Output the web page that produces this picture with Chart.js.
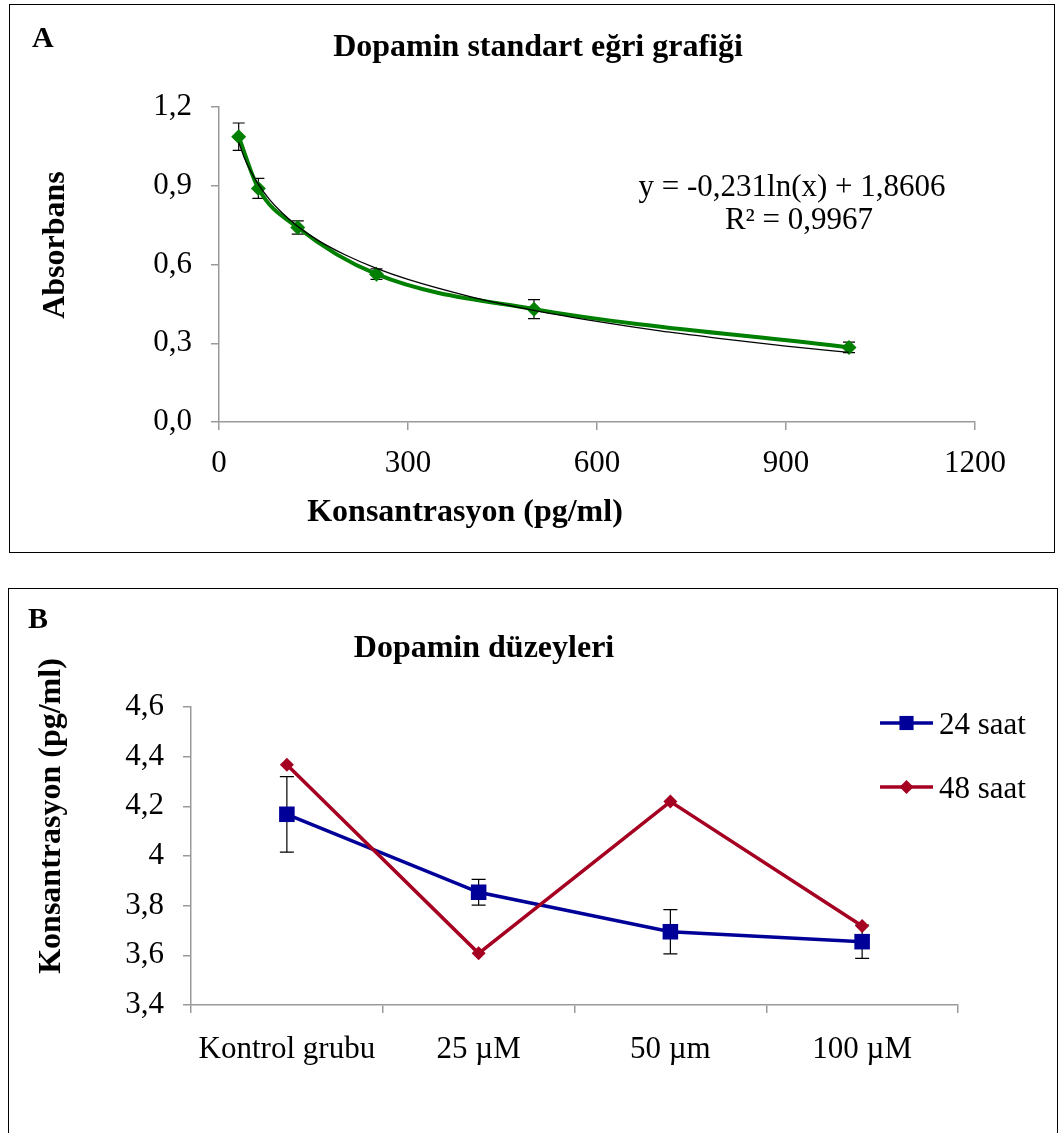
<!DOCTYPE html>
<html>
<head>
<meta charset="utf-8">
<script src="https://cdn.jsdelivr.net/npm/chart.js@4.4.0/dist/chart.umd.min.js"></script>
<style>
  body { margin:0; background:#fff; width:1059px; height:1133px; overflow:hidden; position:relative; }
  .frame { position:absolute; border:1px solid #000; box-sizing:border-box; }
  #frameA { left:9px; top:4px; width:1046px; height:549px; }
  #frameB { left:8px; top:588px; width:1050px; height:600px; }
  canvas { position:absolute; left:0; top:0; }
</style>
</head>
<body>
<div class="frame" id="frameA"></div>
<div class="frame" id="frameB"></div>
<canvas id="chartA" width="1059" height="1133"></canvas>
<canvas id="chartB" width="1059" height="1133"></canvas>
<script>

// ---- A : dopamin standart eğri ----
const stdConc = [31.25, 62.5, 125, 250, 500, 1000]
const stdAbs  = [1.087, 0.890, 0.741, 0.563, 0.430, 0.284]
const stdErr  = [0.052, 0.038, 0.025, 0.020, 0.036, 0.020]

// logarithmic trend line
const trendConc = [31.25, 40, 50, 62.5, 80, 100, 125, 160, 200, 250, 300, 400, 500, 600, 700, 800, 900, 1000]
const trendAbs  = [1.066, 1.008, 0.957, 0.905, 0.848, 0.797, 0.745, 0.688, 0.637, 0.585, 0.543, 0.477, 0.425, 0.383, 0.347, 0.317, 0.289, 0.265]

// ---- B : dopamin düzeyleri ----
const groups   = ['Kontrol grubu', '25 µM', '50 µm', '100 µM']
const saat24   = [4.168, 3.854, 3.695, 3.655]
const saat24Err = [0.152, 0.052, 0.089, 0.067]
const saat48   = [4.367, 3.608, 4.219, 3.718]


const FONT = "'Liberation Serif', 'Times New Roman', serif"
Chart.defaults.font.family = FONT
Chart.defaults.color = '#000'

const AXIS_GRAY = '#9a9a9a'


function commaFmt(v){
      return String(Number(v.toFixed(1))).replace('.', ',')
}

function textPlugin(items){
      return {
            id: 'texts',
            afterDraw(chart){
                  const ctx = chart.ctx
                  items.forEach(t => {
                        ctx.save()
                        ctx.fillStyle = '#000'
                        ctx.font = t.font
                        ctx.textAlign = t.align || 'center'
                        ctx.textBaseline = t.baseline || 'alphabetic'
                        ctx.translate(t.x, t.y)
                        if (t.rotate) ctx.rotate(t.rotate)
                        ctx.fillText(t.text, 0, 0)
                        ctx.restore()
                  })
            }
      }
}

// error bars drawn under the lines / markers
const errorBarPlugin = {
      id: 'errorBars',
      beforeDatasetsDraw(chart){
            const ctx = chart.ctx
            const yScale = chart.scales.y
            chart.data.datasets.forEach((ds, i) => {
                  if (!ds.errorBars) return
                  const meta = chart.getDatasetMeta(i)
                  meta.data.forEach((pt, j) => {
                        const raw = ds.data[j]
                        const val = (typeof raw === 'object') ? raw.y : raw
                        const e = ds.errorBars[j]
                        const top = yScale.getPixelForValue(val + e)
                        const bot = yScale.getPixelForValue(val - e)
                        const cap = ds.errorCap || 6
                        ctx.save()
                        ctx.strokeStyle = '#000'
                        ctx.lineWidth = ds.errorWidth || 1.2
                        ctx.beginPath()
                        ctx.moveTo(pt.x, top);        ctx.lineTo(pt.x, bot)
                        ctx.moveTo(pt.x - cap, top);  ctx.lineTo(pt.x + cap, top)
                        ctx.moveTo(pt.x - cap, bot);  ctx.lineTo(pt.x + cap, bot)
                        ctx.stroke()
                        ctx.restore()
                  })
            })
      }
}

function marker(ctx, style, r, x, y){
      ctx.beginPath()
      if (style === 'rect'){
            const h = r * Math.SQRT1_2
            ctx.rect(x - h, y - h, 2*h, 2*h)
      } else {
            ctx.moveTo(x, y - r); ctx.lineTo(x + r, y); ctx.lineTo(x, y + r); ctx.lineTo(x - r, y)
            ctx.closePath()
      }
      ctx.fill()
}

// excel style legend: short line with the marker in the middle
const legendB = {
      id: 'legendB',
      afterDraw(chart){
            const ctx = chart.ctx
            const rows = [723, 787]
            ;[1, 0].forEach((dsIndex, k) => {
                  const ds = chart.data.datasets[dsIndex]
                  const y = rows[k]
                  ctx.save()
                  ctx.strokeStyle = ds.borderColor
                  ctx.fillStyle = ds.borderColor
                  ctx.lineWidth = ds.borderWidth
                  ctx.beginPath(); ctx.moveTo(880, y); ctx.lineTo(933, y); ctx.stroke()
                  marker(ctx, ds.pointStyle, ds.pointStyle === 'rect' ? 10 : 7, 906.5, y)
                  ctx.fillStyle = '#000'
                  ctx.font = '31px ' + FONT
                  ctx.textAlign = 'left'
                  ctx.textBaseline = 'alphabetic'
                  ctx.fillText(ds.label, 939, y + 11)
                  ctx.restore()
            })
      }
}


const textsA = [
      { text: 'A', x: 32, y: 47, font: 'bold 30px ' + FONT, align: 'left' },
      { text: 'Dopamin standart eğri grafiği', x: 538, y: 56, font: 'bold 32px ' + FONT },
      { text: 'Absorbans', x: 56, y: 245, font: 'bold 32px ' + FONT, baseline: 'middle', rotate: -Math.PI/2 },
      { text: 'Konsantrasyon (pg/ml)', x: 465, y: 521, font: 'bold 32px ' + FONT },
      { text: 'y = -0,231ln(x) + 1,8606', x: 792, y: 196, font: '31px ' + FONT },
      { text: 'R² = 0,9967', x: 799, y: 229, font: '31px ' + FONT },
]

const textsB = [
      { text: 'B', x: 28, y: 628, font: 'bold 30px ' + FONT, align: 'left' },
      { text: 'Dopamin düzeyleri', x: 484, y: 657, font: 'bold 32px ' + FONT },
      { text: 'Konsantrasyon (pg/ml)', x: 52, y: 816, font: 'bold 32px ' + FONT, baseline: 'middle', rotate: -Math.PI/2 },
]


function axisGrid(){
      return { drawOnChartArea: false, tickLength: 8, color: AXIS_GRAY, lineWidth: 1.5 }
}


const setupA = {
      type: 'line',
      data: {
            datasets: [
                  {
                        label: 'trend',
                        data: trendConc.map((x, i) => ({ x, y: trendAbs[i] })),
                        borderColor: '#000',
                        borderWidth: 1.3,
                        pointRadius: 0,
                        cubicInterpolationMode: 'monotone',
                  },
                  {
                        label: 'Absorbans',
                        data: stdConc.map((x, i) => ({ x, y: stdAbs[i] })),
                        borderColor: '#008000',
                        backgroundColor: '#008000',
                        borderWidth: 4,
                        pointStyle: 'rectRot',
                        pointRadius: 7.5,
                        pointBorderWidth: 0,
                        cubicInterpolationMode: 'monotone',
                        errorBars: stdErr,
                        errorCap: 6,
                  },
            ]
      },
      options: {
            responsive: false,
            animation: false,
            events: [],
            layout: { padding: { left: 0, top: 107, right: 84, bottom: 611 } },
            plugins: { legend: { display: false }, tooltip: { enabled: false } },
            scales: {
                  x: {
                        type: 'linear', min: 0, max: 1200,
                        grid: axisGrid(),
                        border: { color: AXIS_GRAY, width: 1.5 },
                        ticks: { stepSize: 300, maxRotation: 0, padding: 15, font: { size: 31 },
                                 callback: v => String(v) },
                        afterFit(scale){ scale.height = 100 },
                  },
                  y: {
                        min: 0, max: 1.2,
                        grid: axisGrid(),
                        border: { color: AXIS_GRAY, width: 1.5 },
                        ticks: { stepSize: 0.3, padding: 19, font: { size: 31 },
                                 callback: v => v.toFixed(1).replace('.', ',') },
                        afterFit(scale){ scale.width = 219 },
                  },
            },
      },
      plugins: [errorBarPlugin, textPlugin(textsA)],
}


const setupB = {
      type: 'line',
      data: {
            labels: groups,
            datasets: [
                  {
                        label: '48 saat',
                        data: saat48,
                        borderColor: '#A50021',
                        backgroundColor: '#A50021',
                        borderWidth: 3.5,
                        pointStyle: 'rectRot',
                        pointRadius: 7,
                        pointBorderWidth: 0,
                        tension: 0,
                  },
                  {
                        label: '24 saat',
                        data: saat24,
                        borderColor: '#000099',
                        backgroundColor: '#000099',
                        borderWidth: 3.5,
                        pointStyle: 'rect',
                        pointRadius: 11,
                        pointBorderWidth: 0,
                        tension: 0,
                        errorBars: saat24Err,
                        errorCap: 7,
                  },
            ]
      },
      options: {
            responsive: false,
            animation: false,
            events: [],
            layout: { padding: { left: 0, top: 707, right: 101, bottom: 28 } },
            plugins: { legend: { display: false }, tooltip: { enabled: false } },
            scales: {
                  x: {
                        offset: true,
                        grid: Object.assign(axisGrid(), { offset: true }),
                        border: { color: AXIS_GRAY, width: 1.5 },
                        ticks: { maxRotation: 0, autoSkip: false, padding: 18, font: { size: 31 } },
                        afterFit(scale){ scale.height = 100 },
                  },
                  y: {
                        min: 3.4, max: 4.6,
                        grid: axisGrid(),
                        border: { color: AXIS_GRAY, width: 1.5 },
                        ticks: { stepSize: 0.2, padding: 19, font: { size: 31 }, callback: v => commaFmt(v) },
                        afterFit(scale){ scale.width = 191 },
                  },
            },
      },
      plugins: [errorBarPlugin, textPlugin(textsB), legendB],
}


new Chart(document.getElementById('chartA'), setupA)
new Chart(document.getElementById('chartB'), setupB)

</script>
</body>
</html>
